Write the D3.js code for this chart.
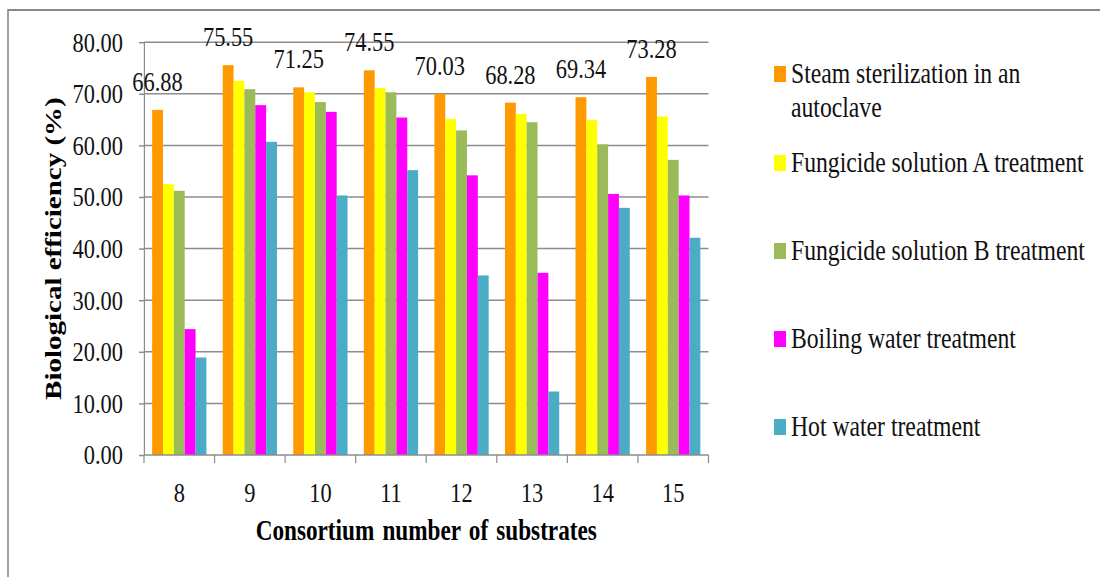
<!DOCTYPE html>
<html>
<head>
<meta charset="utf-8">
<script src="https://cdn.jsdelivr.net/npm/d3@7"></script>
<style>
  html, body { margin: 0; padding: 0; background: #fff; }
  svg { display: block; }
</style>
</head>
<body>
<div id="chart"></div>
<script>
const categories = ["8", "9", "10", "11", "12", "13", "14", "15"];
const seriesNames = [
  "Steam sterilization in an autoclave",
  "Fungicide solution A treatment",
  "Fungicide solution B treatment",
  "Boiling water treatment",
  "Hot water treatment"
];
const steamValues = [66.88, 75.55, 71.25, 74.55, 70.03, 68.28, 69.34, 73.28];
const fungicideAValues = [52.5, 72.5, 70.3, 71.1, 65.1, 66.1, 64.9, 65.6];
const fungicideBValues = [51.2, 70.9, 68.4, 70.3, 62.9, 64.5, 60.2, 57.2];
const boilingValues = [24.4, 67.8, 66.5, 65.4, 54.2, 35.3, 50.6, 50.3];
const hotValues = [18.9, 60.7, 50.3, 55.2, 34.8, 12.3, 47.9, 42.1];
const yTicks = [0, 10, 20, 30, 40, 50, 60, 70, 80];
const colors = ["#FF9900", "#FFFF00", "#9BBB59", "#FF00FF", "#4BACC6"];

const seriesValues = [steamValues, fungicideAValues, fungicideBValues, boilingValues, hotValues];

const FONT = "Liberation Serif";

// the reference is squeezed horizontally, so draw wider and compress via viewBox
const SX = 0.8;
const W = 1100, H = 577;
const px = (x) => x / SX;

const plot = { left: 144, right: 708.5, top: 42.2, bottom: 455 };

const svg = d3.select("#chart")
  .append("svg")
  .attr("width", W)
  .attr("height", H)
  .attr("viewBox", `0 0 ${px(W)} ${H}`)
  .attr("preserveAspectRatio", "none");

// outer frame
svg.append("rect")
  .attr("x", px(8))
  .attr("y", 10)
  .attr("width", px(1200))
  .attr("height", 700)
  .attr("fill", "none")
  .attr("stroke", "#888")
  .attr("stroke-width", 2);

const xScale = d3.scaleBand()
  .domain(categories)
  .range([px(plot.left), px(plot.right)]);

const xInner = d3.scaleBand()
  .domain(seriesNames)
  .range([0, xScale.bandwidth()])
  .paddingOuter(0.75);

const yScale = d3.scaleLinear()
  .domain([0, 80])
  .range([plot.bottom, plot.top]);

// gridlines
svg.append("g")
  .selectAll("line")
  .data(yTicks.filter((d) => d > 0))
  .join("line")
  .attr("x1", px(plot.left))
  .attr("x2", px(plot.right))
  .attr("y1", (d) => yScale(d))
  .attr("y2", (d) => yScale(d))
  .attr("stroke", "#8c8c8c")
  .attr("stroke-width", 1.5);

// y axis
const yAxisGroup = svg.append("g")
  .attr("transform", `translate(${px(plot.left)},0)`)
  .call(
    d3.axisLeft(yScale)
      .tickValues(yTicks)
      .tickFormat(d3.format(".2f"))
      .tickSizeInner(px(5))
      .tickSizeOuter(0)
      .tickPadding(px(16))
  )
  .attr("font-family", FONT)
  .attr("font-size", 28);
yAxisGroup.select(".domain").attr("stroke", "#8c8c8c").attr("stroke-width", 1.5);
yAxisGroup.selectAll(".tick line").attr("stroke", "#8c8c8c").attr("stroke-width", 1.5);
yAxisGroup.selectAll(".tick text").attr("fill", "#111");

// bars
const groups = svg.append("g")
  .selectAll("g")
  .data(categories)
  .join("g")
  .attr("transform", (d) => `translate(${xScale(d)},0)`);

groups.selectAll("rect")
  .data((d, i) => seriesNames.map((name, s) => ({ name, s, value: seriesValues[s][i] })))
  .join("rect")
  .attr("x", (d) => xInner(d.name))
  .attr("y", (d) => yScale(d.value))
  .attr("width", xInner.bandwidth())
  .attr("height", (d) => yScale(0) - yScale(d.value))
  .attr("fill", (d) => colors[d.s]);

// value labels above steam bars
svg.append("g")
  .selectAll("text")
  .data(categories)
  .join("text")
  .attr("x", (d) => xScale(d) + xInner(seriesNames[0]) + xInner.bandwidth() / 2)
  .attr("y", (d, i) => yScale(steamValues[i]) - 19)
  .attr("text-anchor", "middle")
  .attr("font-family", FONT)
  .attr("font-size", 28)
  .attr("fill", "#111")
  .text((d, i) => steamValues[i].toFixed(2));

// x axis line and boundary ticks
svg.append("line")
  .attr("x1", px(plot.left))
  .attr("x2", px(plot.right))
  .attr("y1", plot.bottom)
  .attr("y2", plot.bottom)
  .attr("stroke", "#8c8c8c")
  .attr("stroke-width", 1.5);

svg.append("g")
  .selectAll("line")
  .data(categories.concat(["end"]))
  .join("line")
  .attr("x1", (d) => (d === "end" ? xScale.range()[1] : xScale(d)))
  .attr("x2", (d) => (d === "end" ? xScale.range()[1] : xScale(d)))
  .attr("y1", plot.bottom)
  .attr("y2", plot.bottom + 8)
  .attr("stroke", "#8c8c8c")
  .attr("stroke-width", 1.5);

svg.append("g")
  .selectAll("text")
  .data(categories)
  .join("text")
  .attr("x", (d) => xScale(d) + xScale.bandwidth() / 2)
  .attr("y", 502)
  .attr("text-anchor", "middle")
  .attr("font-family", FONT)
  .attr("font-size", 28)
  .attr("fill", "#111")
  .text((d) => d);

// axis titles
svg.append("text")
  .attr("x", px((plot.left + plot.right) / 2))
  .attr("y", 540)
  .attr("text-anchor", "middle")
  .attr("font-family", FONT)
  .attr("font-size", 29)
  .attr("font-weight", "bold")
  .attr("word-spacing", 3)
  .text("Consortium number of substrates");

svg.append("text")
  .attr("transform", `translate(${px(60.5)},${(plot.top + plot.bottom) / 2}) rotate(-90)`)
  .attr("text-anchor", "middle")
  .attr("font-family", FONT)
  .attr("font-size", 29)
  .attr("font-weight", "bold")
  .text("Biological efficiency (%)");

// legend
const legendBaselines = [83, 172, 260, 348, 436];
const legendLines = [
  ["Steam sterilization in an", "autoclave"],
  ["Fungicide solution A treatment"],
  ["Fungicide solution B treatment"],
  ["Boiling water treatment"],
  ["Hot water treatment"]
];

const legend = svg.append("g")
  .selectAll("g")
  .data(seriesNames)
  .join("g");

legend.append("rect")
  .attr("x", px(774))
  .attr("y", (d, i) => legendBaselines[i] - 17)
  .attr("width", px(12))
  .attr("height", 16)
  .attr("fill", (d, i) => colors[i]);

legend.append("text")
  .attr("x", px(791))
  .attr("y", (d, i) => legendBaselines[i])
  .attr("font-family", FONT)
  .attr("font-size", 29.6)
  .attr("fill", "#111")
  .selectAll("tspan")
  .data((d, i) => legendLines[i])
  .join("tspan")
  .attr("x", px(791))
  .attr("dy", (d, j) => (j === 0 ? 0 : 34))
  .text((d) => d);
</script>
</body>
</html>
